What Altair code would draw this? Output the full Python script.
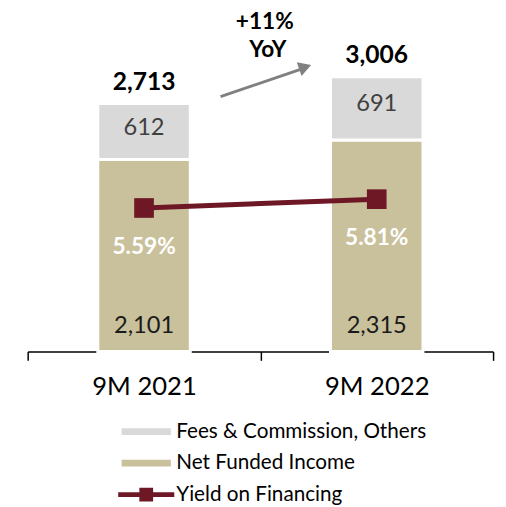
import altair as alt
import pandas as pd

categories = ["9M 2021", "9M 2022"]
net_funded = [2101, 2315]
fees = [612, 691]
totals = [2713, 3006]
yield_pct = [5.59, 5.81]
series_names = ["Fees & Commission, Others", "Net Funded Income", "Yield on Financing"]
growth_label = ["+11%", "YoY"]

GREY = "#D9D9D9"
TAN = "#C9C19C"
MAROON = "#6E1826"
FONT = "Lato"

bars_df = pd.DataFrame({
    "period": categories * 2,
    "series": [series_names[1]] * 2 + [series_names[0]] * 2,
    "value": net_funded + fees,
    "stack_order": [0, 0, 1, 1],
})
seg_df = pd.DataFrame({
    "period": categories,
    "net": net_funded,
    "fees": fees,
    "total": totals,
    "fee_mid": [n + f / 2 for n, f in zip(net_funded, fees)],
    "zero": [0, 0],
})
yield_df = pd.DataFrame({
    "period": categories,
    "yield": yield_pct,
    "label": [f"{v:.2f}%" for v in yield_pct],
})
legend_df = pd.DataFrame({"series": series_names, "period": categories + [categories[0]],
                          "yield": yield_pct + [yield_pct[0]]})

x_enc = alt.X(
    "period:N", sort=categories,
    scale=alt.Scale(paddingInner=0, paddingOuter=0),
    axis=alt.Axis(title=None, labelAngle=0, tickBand="extent", domainColor="#000000",
                  tickColor="#000000", tickSize=9, domainWidth=1.5, tickWidth=1.5,
                  labelFontSize=26, labelColor="#000000", labelPadding=14, labelFont=FONT),
)
y_amt = alt.Scale(domain=[0, 3500])
y_yld = alt.Scale(domain=[2, 10])

rect_path = "M-2.5,-0.35H2.5V0.35H-2.5Z"
line_path = "M-2.85,-0.25H2.85V0.25H-2.85Z M-0.7,-0.7H0.7V0.7H-0.7Z"

legend = alt.Legend(
    title=None, orient="none", legendX=110, legendY=396, direction="vertical",
    labelFont=FONT, labelFontSize=21, labelColor="#000000", labelLimit=500,
    symbolSize=400, symbolStrokeWidth=0, labelOffset=20, rowPadding=10,
)
color_enc = alt.Color("series:N", scale=alt.Scale(domain=series_names, range=[GREY, TAN, MAROON]),
                      legend=legend)

bar = alt.Chart(bars_df).mark_bar(size=94, stroke="white", strokeWidth=3).encode(
    x=x_enc,
    y=alt.Y("value:Q", stack="zero", scale=y_amt, axis=None),
    color=color_enc,
    order=alt.Order("stack_order:Q"),
)

legend_pts = alt.Chart(legend_df).transform_filter("false").mark_point(
    filled=True, size=400, opacity=1).encode(
    x=x_enc, y=alt.Y("yield:Q", scale=y_yld, axis=None),
    color=color_enc,
    shape=alt.Shape("series:N", scale=alt.Scale(domain=series_names,
                                                range=[rect_path, rect_path, line_path]),
                    legend=legend),
)

fee_text = alt.Chart(seg_df).mark_text(fontSize=24, color="#404040", font=FONT, dy=-4).encode(
    x=x_enc, y=alt.Y("fee_mid:Q", scale=y_amt, axis=None), text=alt.Text("fees:Q", format=",d"))
net_text = alt.Chart(seg_df).mark_text(fontSize=24, color="#1A1A1A", font=FONT, dy=-26).encode(
    x=x_enc, y=alt.Y("zero:Q", scale=y_amt, axis=None), text=alt.Text("net:Q", format=",d"))
tot_text = alt.Chart(seg_df).mark_text(fontSize=25, color="#000000", font=FONT, fontWeight="bold", dy=-22).encode(
    x=x_enc, y=alt.Y("total:Q", scale=y_amt, axis=None), text=alt.Text("total:Q", format=",d"))

line = alt.Chart(yield_df).mark_line(color=MAROON, strokeWidth=5).encode(
    x=x_enc, y=alt.Y("yield:Q", scale=y_yld, axis=None))
pts = alt.Chart(yield_df).mark_point(shape="square", filled=True, size=400, color=MAROON, opacity=1).encode(
    x=x_enc, y=alt.Y("yield:Q", scale=y_yld, axis=None))
ylab = alt.Chart(yield_df).mark_text(fontSize=23, color="white", font=FONT, fontWeight="bold", dy=40).encode(
    x=x_enc, y=alt.Y("yield:Q", scale=y_yld, axis=None), text="label:N")

one = pd.DataFrame({"a": [0]})
arrow_line = alt.Chart(one).mark_rule(color="#808080", strokeWidth=3).encode(
    x=alt.value(196), y=alt.value(66), x2=alt.value(281), y2=alt.value(37))
arrow_head = alt.Chart(one).mark_point(shape="triangle-up", filled=True, size=220, color="#808080",
                                       opacity=1, angle=71).encode(x=alt.value(282), y=alt.value(36))
g1 = alt.Chart(one).mark_text(fontSize=23, fontWeight="bold", font=FONT, color="#000000").encode(
    x=alt.value(241), y=alt.value(-10), text=alt.value(growth_label[0]))
g2 = alt.Chart(one).mark_text(fontSize=23, fontWeight="bold", font=FONT, color="#000000").encode(
    x=alt.value(244), y=alt.value(19), text=alt.value(growth_label[1]))

left = alt.layer(bar, fee_text, net_text, tot_text)
right = alt.layer(line, pts, ylab, legend_pts)
chart = alt.layer(left, right, arrow_line, arrow_head, g1, g2).resolve_scale(y="independent").properties(
    width=473, height=325, autosize="none",
    padding={"left": 20, "top": 20, "right": 5, "bottom": 156},
).configure(font=FONT).configure_view(stroke=None, strokeWidth=0)

chart.save("out.html", embed_options={"renderer": "svg", "actions": False})
